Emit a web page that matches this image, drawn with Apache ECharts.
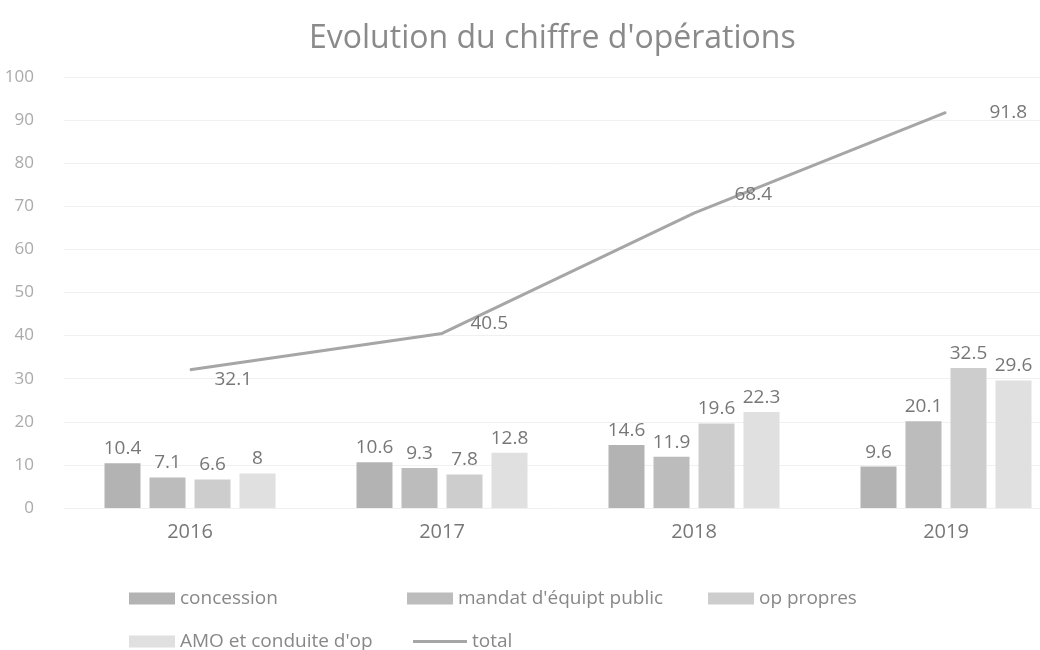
<!DOCTYPE html>
<html>
<head>
<meta charset="utf-8">
<script src="https://cdn.jsdelivr.net/npm/echarts@6/dist/echarts.min.js"></script>
<style>
  html, body { margin: 0; padding: 0; background: #fff; }
  #main { width: 1040px; height: 650px; }
</style>
</head>
<body>
<div id="main"></div>
<script>
// données
const years = ['2016', '2017', '2018', '2019'];
const concession = [10.4, 10.6, 14.6, 9.6];
const mandat = [7.1, 9.3, 11.9, 20.1];
const opPropres = [6.6, 7.8, 19.6, 32.5];
const amo = [8, 12.8, 22.3, 29.6];
const total = [32.1, 40.5, 68.4, 91.8];
// décalage des étiquettes de la courbe (comme dans l'original)
const totalLabelOffset = [[4, 10], [8, -10], [20, -19], [23, 0]];

const font = '"Open Sans", "Noto Sans", sans-serif';
const labelStyle = { show: true, position: 'top', color: '#777', fontSize: 19, fontFamily: font, distance: 5 };

const chart = echarts.init(document.getElementById('main'));

function bar(name, data, color) {
  return {
    name: name, type: 'bar', data: data,
    barWidth: 36, barGap: '25%',
    itemStyle: { color: color },
    label: labelStyle
  };
}

function leg(name, left, top) {
  return {
    data: [name], left: left, top: top,
    icon: 'rect', itemWidth: 46, itemHeight: 12,
    textStyle: { color: '#888', fontSize: 19, fontFamily: font }
  };
}

chart.setOption({
  animation: false,
  title: {
    text: "Evolution du chiffre d'opérations",
    left: 304, top: 18,
    textStyle: { color: '#8a8a8a', fontSize: 32, fontWeight: 'normal', fontFamily: font }
  },
  legend: [
    leg('concession', 124, 584),
    leg('mandat d\'équipt public', 402, 584),
    leg('op propres', 703, 584),
    leg('AMO et conduite d\'op', 124, 627),
    Object.assign(leg('total', 408, 627), { itemWidth: 54, itemHeight: 3 })
  ],
  grid: { left: 64, top: 77, width: 1008, height: 431, outerBoundsMode: 'none' },
  xAxis: {
    type: 'category', data: years,
    axisLine: { show: false }, axisTick: { show: false },
    axisLabel: { color: '#777', fontSize: 20, fontFamily: font, margin: 14 }
  },
  yAxis: {
    type: 'value', min: 0, max: 100, interval: 10,
    axisLine: { show: false }, axisTick: { show: false },
    axisLabel: { color: '#aaa', fontSize: 17, fontFamily: font, margin: 30 },
    splitLine: { lineStyle: { color: '#f0f0f0' } }
  },
  series: [
    bar('concession', concession, '#b3b3b3'),
    bar('mandat d\'équipt public', mandat, '#bcbcbc'),
    bar('op propres', opPropres, '#cdcdcd'),
    bar('AMO et conduite d\'op', amo, '#e0e0e0'),
    {
      name: 'total', type: 'line',
      data: total.map((v, i) => ({ value: v, label: { offset: totalLabelOffset[i] } })),
      symbol: 'circle', symbolSize: 1, showSymbol: true,
      lineStyle: { color: '#a6a6a6', width: 3 },
      itemStyle: { color: '#a6a6a6' },
      label: { show: true, position: 'right', color: '#777', fontSize: 19, fontFamily: font, distance: 20 }
    }
  ]
});
</script>
</body>
</html>
